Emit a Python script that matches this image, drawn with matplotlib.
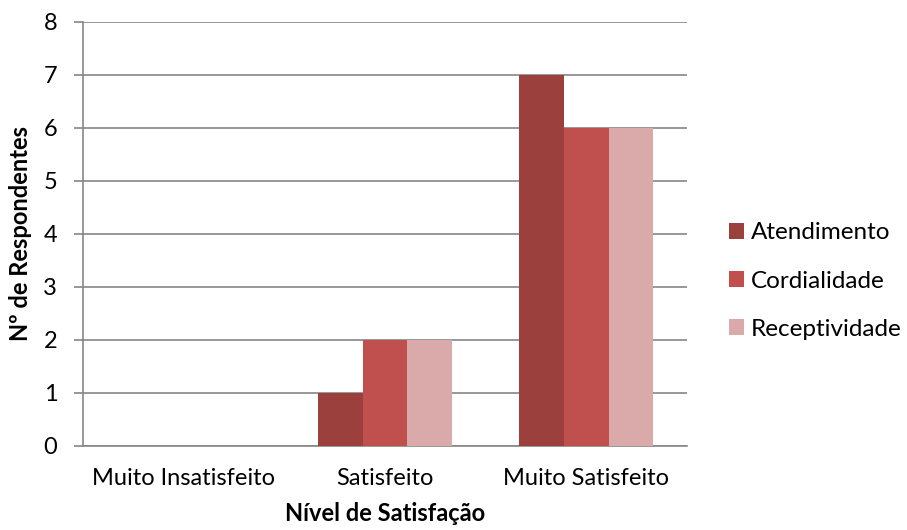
import matplotlib
matplotlib.use("Agg")
import matplotlib.pyplot as plt
import numpy as np

plt.rcParams['font.family'] = ['Lato', 'DejaVu Sans']

categories = ["Muito Insatisfeito", "Satisfeito", "Muito Satisfeito"]
series_names = ["Atendimento", "Cordialidade", "Receptividade"]
atendimento = [0, 1, 7]
cordialidade = [0, 2, 6]
receptividade = [0, 2, 6]
colors = ["#9C403D", "#C0504D", "#D9AAA9"]

fig = plt.figure(figsize=(9.07, 5.30), dpi=100)
ax = fig.add_axes([0.0915, 0.1585, 0.666, 0.80])

x = np.arange(len(categories))
w = 0.222
for i, (vals, name, c) in enumerate(zip([atendimento, cordialidade, receptividade], series_names, colors)):
    ax.bar(x + (i - 1) * w, vals, width=w, color=c, label=name, zorder=3)

fs = 17
ax.set_xlim(-0.5, 2.5)
ax.set_ylim(0, 8)
ax.set_yticks(range(0, 9))
ax.yaxis.grid(True, color="#868686", linewidth=1.2, zorder=0)
ax.set_xticks(x)
ax.set_xticklabels(categories, fontsize=fs)
ax.tick_params(axis='y', labelsize=fs, length=6.5, width=1.2, color="#868686", pad=12)
ax.tick_params(axis='x', length=0, pad=16)
for s in ["top", "right"]:
    ax.spines[s].set_visible(False)
ax.spines["left"].set_color("#868686")
ax.spines["left"].set_linewidth(1.2)
ax.spines["bottom"].set_color("#868686")
ax.spines["bottom"].set_linewidth(1.2)

ax.set_xlabel("Nível de Satisfação", fontsize=fs, fontweight="bold", labelpad=9)
ax.set_ylabel("Nº de Respondentes", fontsize=fs, fontweight="bold", labelpad=8)

fig.legend(loc="center left", bbox_to_anchor=(729 / 907, 1 - 281 / 530), frameon=False,
           fontsize=17.5, handlelength=0.62, handleheight=0.62, handletextpad=0.29,
           labelspacing=1.12, borderpad=0, borderaxespad=0)

fig.savefig("out.png", dpi=100)
